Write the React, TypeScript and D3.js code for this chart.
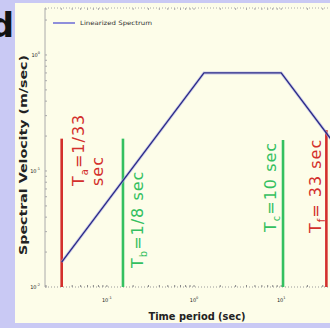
import { useMemo } from "react";
import * as d3 from "d3";

const WIDTH = 330;
const HEIGHT = 328;

// plot frame in px (right side runs past the window, like the reference)
const FRAME = { left: 45, top: 8, bottom: 287, right: 349 };

// axes (log-log)
const periodDomain = [0.0195, 60];
const velocityDomain = [0.01, 2.54];
const xTickValues = [0.1, 1, 10];
const xTickExp = ["-1", "0", "1"];
const yTickValues = [0.01, 0.1, 1];
const yTickExp = ["-2", "-1", "0"];

// linearized spectrum (period in sec, velocity in m/sec)
const spectrumPeriod = [1 / 33, 1.3, 10, 60];
const spectrumVelocity = [0.0164, 0.7, 0.7, 0.117];

// corner period markers
const markerSub = ["a", "b", "c", "f"];
const markerPeriod = [1 / 33, 0.153, 10.5, 33];
const markerTop = [0.19, 0.19, 0.185, 0.225];
const markerLines = [["=1/33", "sec"], ["=1/8 sec"], ["=10 sec"], ["= 33 sec"]];

const RED = "#d3302c";
const GREEN = "#34c060";
const markerColor = [RED, GREEN, GREEN, RED];
// label baseline offset from the line (px) and where the text starts (bottom)
const LABEL_POS = [
  { dx: 22, y: 186, lineGap: 19 },
  { dx: 20, y: 268, lineGap: 0 },
  { dx: -7, y: 232, lineGap: 0 },
  { dx: -5, y: 233, lineGap: 0 },
];

const LABEL_FONT = "'DejaVu Sans', sans-serif";

export default function App() {
  const xScale = useMemo(
    () => d3.scaleLog().domain(periodDomain).range([FRAME.left, FRAME.right]),
    []
  );
  const yScale = useMemo(
    () => d3.scaleLog().domain(velocityDomain).range([FRAME.bottom, FRAME.top]),
    []
  );

  const path = useMemo(() => {
    const line = d3
      .line<number>()
      .x((d, i) => xScale(spectrumPeriod[i]))
      .y((d) => yScale(d));
    return line(spectrumVelocity) || "";
  }, [xScale, yScale]);

  // minor ticks 2..9 of each decade
  const xMinor = useMemo(() => {
    const out: number[] = [];
    for (let e = -2; e <= 1; e++)
      for (let k = 1; k <= 9; k++) {
        const v = k * Math.pow(10, e);
        if (v >= periodDomain[0] && v <= periodDomain[1]) out.push(v);
      }
    return out;
  }, []);
  const yMinor = useMemo(() => {
    const out: number[] = [];
    for (let e = -2; e <= 0; e++)
      for (let k = 1; k <= 9; k++) {
        const v = k * Math.pow(10, e);
        if (v >= velocityDomain[0] && v <= velocityDomain[1]) out.push(v);
      }
    return out;
  }, []);

  return (
    <svg
      width={WIDTH}
      height={HEIGHT}
      style={{ position: "absolute", left: 0, top: 0 }}
    >
      <defs>
        <clipPath id="plotClip">
          <rect x={FRAME.left} y={0} width={WIDTH - FRAME.left} height={FRAME.bottom + 1} />
        </clipPath>
      </defs>
      {/* slide background + panel */}
      <rect width={WIDTH} height={HEIGHT} fill="#c9c9f4" />
      <rect x={15} y={3} width={WIDTH - 15} height={320} fill="#fdfde9" />

      {/* panel letter */}
      <text
        x={14}
        y={37}
        textAnchor="end"
        fontFamily="'DejaVu Sans', sans-serif"
        fontWeight="bold"
        fontSize={34}
        fill="#111"
      >
        d
      </text>

      {/* frame */}
      <line x1={FRAME.left} x2={WIDTH} y1={FRAME.top} y2={FRAME.top} stroke="#aaa" strokeDasharray="1,2" />
      <line x1={FRAME.left} x2={WIDTH} y1={FRAME.bottom} y2={FRAME.bottom} stroke="#999" strokeDasharray="1,2" />
      <line x1={FRAME.left} x2={FRAME.left} y1={FRAME.top} y2={FRAME.bottom} stroke="#aaa" strokeWidth={1} />

      {xMinor.map((v, i) => (
        <g key={"xm" + i}>
          <line x1={xScale(v)} x2={xScale(v)} y1={FRAME.bottom} y2={FRAME.bottom - 2} stroke="#888" />
          <line x1={xScale(v)} x2={xScale(v)} y1={FRAME.top} y2={FRAME.top + 2} stroke="#aaa" />
        </g>
      ))}
      {yMinor.map((v, i) => (
        <line key={"ym" + i} x1={FRAME.left} x2={FRAME.left + 2} y1={yScale(v)} y2={yScale(v)} stroke="#aaa" />
      ))}

      {/* tick labels */}
      {xTickValues.map((v, i) => (
        <text key={"xt" + i} x={xScale(v)} y={FRAME.bottom + 15} textAnchor="middle" fontSize={5} fontFamily={LABEL_FONT} fill="#222">
          10
          <tspan dy={-3} fontSize={3.5}>{xTickExp[i]}</tspan>
        </text>
      ))}
      {yTickValues.map((v, i) => (
        <text key={"yt" + i} x={FRAME.left - 5} y={yScale(v) + 2} textAnchor="end" fontSize={5} fontFamily={LABEL_FONT} fill="#222">
          10
          <tspan dy={-3} fontSize={3.5}>{yTickExp[i]}</tspan>
        </text>
      ))}

      {/* axis titles */}
      <text
        x={197}
        y={320}
        textAnchor="middle"
        fontFamily={LABEL_FONT}
        fontWeight="bold"
        fontSize={10.5}
        textLength={97}
        lengthAdjust="spacingAndGlyphs"
        fill="#222"
      >
        Time period (sec)
      </text>
      <text
        transform={`translate(27, 155) rotate(-90)`}
        textAnchor="middle"
        fontFamily={LABEL_FONT}
        fontWeight="bold"
        fontSize={10.5}
        textLength={200}
        lengthAdjust="spacingAndGlyphs"
        fill="#222"
      >
        Spectral Velocity (m/sec)
      </text>

      <g clipPath="url(#plotClip)">
        {/* period markers */}
        {markerPeriod.map((p, i) => (
          <line
            key={"m" + i}
            x1={xScale(p)}
            x2={xScale(p)}
            y1={yScale(markerTop[i])}
            y2={FRAME.bottom}
            stroke={markerColor[i]}
            strokeWidth={2.6}
          />
        ))}

        {/* spectrum */}
        <path d={path} fill="none" stroke="#a8a8e6" strokeWidth={3} opacity={0.6} />
        <path d={path} fill="none" stroke="#2a2a86" strokeWidth={1.3} strokeLinejoin="round" />

        {/* marker labels */}
        {markerPeriod.map((p, i) =>
          markerLines[i].map((txt, j) => (
            <text
              key={"ml" + i + "_" + j}
              transform={`translate(${xScale(p) + LABEL_POS[i].dx + j * LABEL_POS[i].lineGap}, ${LABEL_POS[i].y}) rotate(-90)`}
              fontFamily={LABEL_FONT}
              fontSize={16}
              letterSpacing={1}
              fill={markerColor[i]}
            >
              {j === 0 ? (
                <>
                  T
                  <tspan fontSize={10} dy={4}>{markerSub[i]}</tspan>
                  <tspan dy={-4}>{txt}</tspan>
                </>
              ) : (
                txt
              )}
            </text>
          ))
        )}
      </g>

      {/* legend */}
      <line x1={53} x2={75} y1={23} y2={23} stroke="#6a6ad6" strokeWidth={1.5} />
      <text x={80} y={25} fontSize={6} fontFamily={LABEL_FONT} fill="#333" textLength={72} lengthAdjust="spacingAndGlyphs">
        Linearized Spectrum
      </text>
    </svg>
  );
}
